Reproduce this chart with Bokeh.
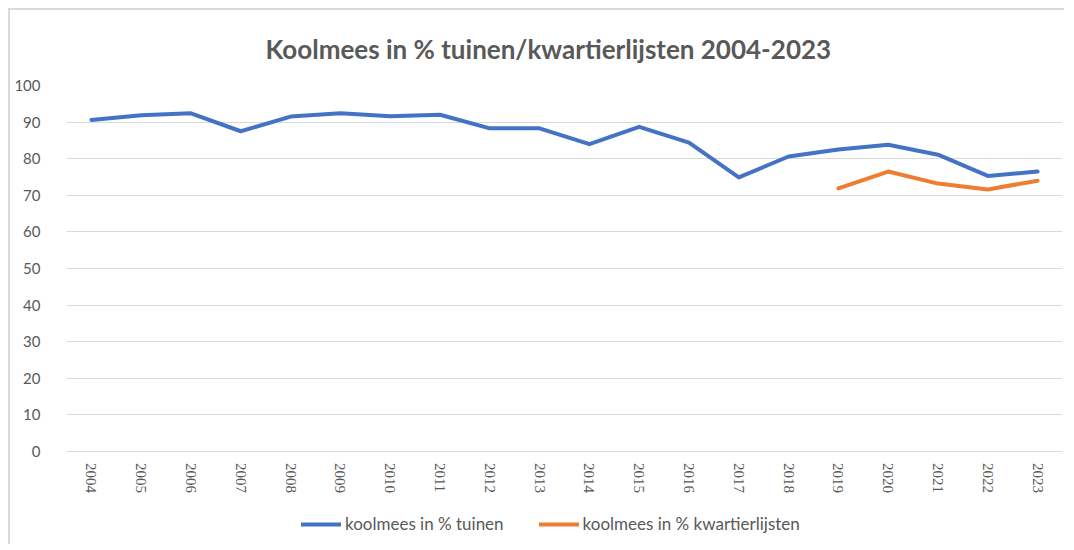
import math
from bokeh.plotting import figure
from bokeh.models import ColumnDataSource, Legend, LegendItem, FixedTicker
from bokeh.embed import file_html
from bokeh.resources import INLINE

years = [str(y) for y in range(2004, 2024)]
tuinen = [90.6, 91.9, 92.4, 87.5, 91.5, 92.4, 91.6, 92.0, 88.3, 88.3,
          84.0, 88.7, 84.4, 74.9, 80.6, 82.5, 83.8, 81.1, 75.3, 76.5]
kw_years = ["2019", "2020", "2021", "2022", "2023"]
kwartier = [71.9, 76.5, 73.2, 71.6, 74.0]
y_ticks = list(range(0, 101, 10))

TXT = "#595959"
FONT = "Lato"
Y_MIN = -24.3      # room below zero for the year labels and the legend
LABEL_Y = -3.1     # where the rotated year labels start

p = figure(width=1056, height=536, x_range=years, y_range=(Y_MIN, 100),
           output_backend="svg", toolbar_location=None,
           min_border_left=56, min_border_right=4, min_border_top=74,
           min_border_bottom=6)
p.title.text = "Koolmees in % tuinen/kwartierlijsten 2004-2023"
p.title.align = "left"
p.title.offset = 199
p.title.text_font = FONT
p.title.text_font_size = "26px"
p.title.text_font_style = "bold"
p.title.text_color = TXT
p.title.standoff = 41

p.outline_line_color = None
p.xgrid.grid_line_color = None
p.ygrid.grid_line_color = "#d9d9d9"
p.ygrid.grid_line_width = 1
p.yaxis.ticker = FixedTicker(ticks=y_ticks)
p.yaxis.axis_line_color = None
p.yaxis.major_tick_line_color = None
p.yaxis.minor_tick_line_color = None
p.yaxis.major_label_standoff = 20
p.yaxis.major_label_text_font = FONT
p.yaxis.major_label_text_font_size = "15px"
p.yaxis.major_label_text_color = TXT
p.xaxis.visible = False

lbl = ColumnDataSource(dict(x=years, y=[LABEL_Y] * len(years), t=years))
p.text("x", "y", text="t", source=lbl, angle=-math.pi / 2,
       text_align="left", text_baseline="middle",
       text_font=FONT, text_font_size="15px", text_color=TXT)

src1 = ColumnDataSource(dict(x=years, y=tuinen))
src2 = ColumnDataSource(dict(x=kw_years, y=kwartier))
r1 = p.line("x", "y", source=src1, line_color="#4472C4", line_width=4,
            line_cap="round", line_join="round")
r2 = p.line("x", "y", source=src2, line_color="#ED7D31", line_width=4,
            line_cap="round", line_join="round")

legend = Legend(items=[LegendItem(label="koolmees in % tuinen", renderers=[r1]),
                       LegendItem(label="koolmees in % kwartierlijsten", renderers=[r2])],
                orientation="horizontal", location=(235, 6),
                border_line_color=None, background_fill_alpha=0,
                label_text_font=FONT, label_text_font_size="17px",
                label_text_color=TXT, glyph_width=40, label_standoff=4,
                spacing=35, padding=6, margin=0)
p.add_layout(legend, "center")

p.styles = {"margin-left": "8px", "margin-top": "8px",
            "border-left": "2px solid #d9d9d9", "border-top": "2px solid #d9d9d9"}

open("out.html", "w").write(file_html(p, INLINE))
